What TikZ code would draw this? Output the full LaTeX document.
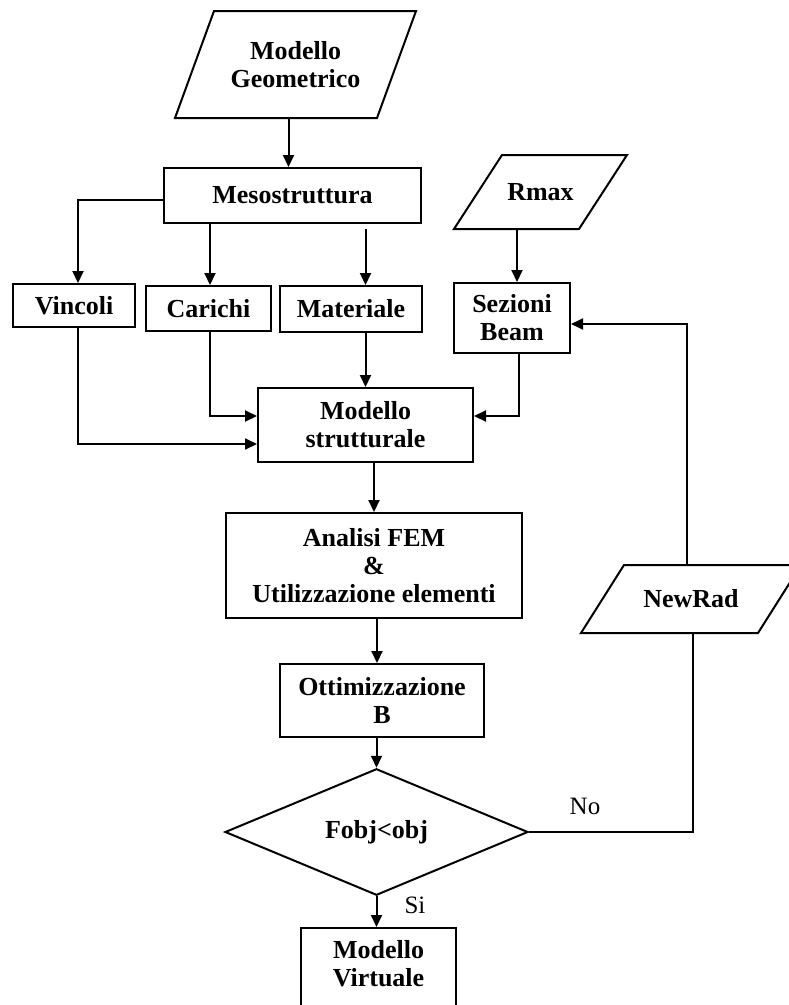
\documentclass[tikz,border=0pt]{standalone}
\usepackage{fontspec}
\setmainfont{Liberation Serif}
\usetikzlibrary{arrows.meta,shapes.geometric,calc}

% outline of an input/output parallelogram around a borderless node
\newcommand\slantbox[2]{%
  \draw ([xshift=#2]#1.north west) -- (#1.north east) --
        ([xshift=-#2]#1.south east) -- (#1.south west) -- cycle;}

\begin{document}
\begin{tikzpicture}[
  x=1pt, y=-1pt,
  line width=2pt,
  box/.style={draw, rectangle, inner sep=0pt, align=center,
              font=\bfseries\fontsize{26}{28}\selectfont},
  io/.style={rectangle, inner sep=0pt, align=center,
             font=\bfseries\fontsize{26}{28}\selectfont},
  arr/.style={-{Triangle[length=12pt,width=11pt]}},
  tag/.style={font=\fontsize{25}{28}\selectfont}
]
\useasboundingbox[fill=white] (0,0) rectangle (789,1005);

% inputs
\node[io, minimum width=239pt, minimum height=105pt] (geo) at (295.5,64.5) {Modello\\Geometrico};
\slantbox{geo}{39pt}
\node[io, minimum width=171pt, minimum height=72pt] (rmax) at (540.5,192) {Rmax};
\slantbox{rmax}{48pt}
\node[io, minimum width=218pt, minimum height=66pt] (npar) at (691,599) {NewRad};
\slantbox{npar}{43pt}

% process boxes
\node[box, minimum width=257pt, minimum height=55pt] (meso) at (292.5,195.5) {Mesostruttura};
\node[box, minimum width=122pt, minimum height=43pt] (vinc) at (74,305.5) {Vincoli};
\node[box, minimum width=125pt, minimum height=45pt] (car) at (208.5,308.5) {Carichi};
\node[box, minimum width=142pt, minimum height=46pt] (mat) at (351,309) {Materiale};
\node[box, minimum width=116pt, minimum height=70pt] (sez) at (512,318) {Sezioni\\Beam};
\node[box, minimum width=215pt, minimum height=74pt] (ms) at (365.5,425) {Modello\\strutturale};
\node[box, minimum width=296pt, minimum height=105pt] (fem) at (374,565.5) {Analisi FEM\\\&\\Utilizzazione elementi};
\node[box, minimum width=204pt, minimum height=73pt] (ott) at (382,700.5) {Ottimizzazione\\B};
\node[draw, diamond, inner sep=0pt, minimum width=303pt, minimum height=90pt,
      font=\bfseries\fontsize{26}{28}\selectfont] (dia) at (376.5,832) {Fobj<obj};
\node[box, minimum width=155pt, minimum height=90pt, anchor=north] (mv) at (378.5,927) {};
\node[io] (mvt) at (378.5,964) {Modello\\Virtuale};

% connectors
\draw[arr] ([xshift=-7pt]geo.south) -- ([xshift=-7pt]geo.south |- meso.north);
\draw[arr] ([yshift=-4.5pt]meso.west) -| ([xshift=4pt]vinc.north);
\draw[arr] ([xshift=1.5pt]meso.south -| car.north) -- ([xshift=1.5pt]car.north);
\draw[arr] ([yshift=-5pt]meso.south -| ms.north) -- (ms.north |- mat.north);
\draw[arr] ([xshift=5pt]sez.north |- rmax.south) -- ([xshift=5pt]sez.north);

\draw[arr] ([xshift=4pt]vinc.south) |- ([yshift=-19pt]ms.west);
\draw[arr] ([xshift=1.5pt]car.south) |- ([yshift=9pt]ms.west);
\draw[arr] (mat.south -| ms.north) -- (ms.north);
\draw[arr] ([xshift=7pt]sez.south) |- ([yshift=9pt]ms.east);

\draw[arr] (ms.south -| fem.north) -- (fem.north);
\draw[arr] ([xshift=3pt]fem.south) -- ([xshift=3pt]fem.south |- ott.north);
\draw[arr] (ott.south -| dia.north) -- (dia.north);
\draw[arr] (dia.south) -- (dia.south |- mv.north);

\draw (dia.east) -| ([xshift=2pt]npar.south);
\draw[arr] ([xshift=-4pt]npar.north) |- ([yshift=-6pt]sez.east);

% branch labels
\node[tag] (no) at (585,806) {No};
\node[tag] (si) at (415,905) {Si};
\end{tikzpicture}
\end{document}
